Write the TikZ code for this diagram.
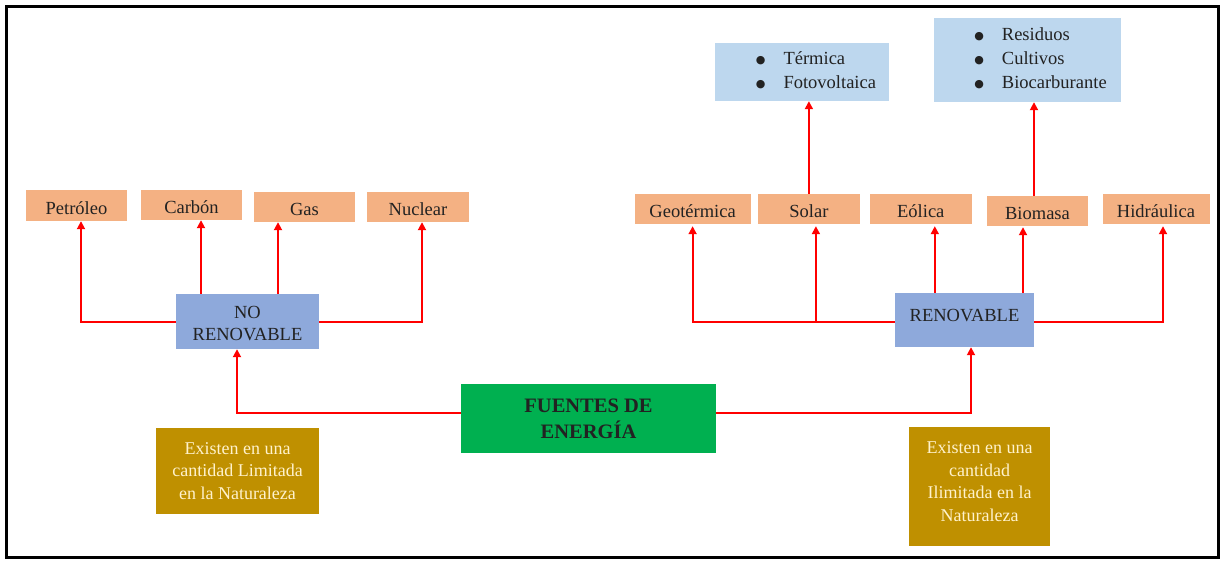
\documentclass[tikz,border=0pt]{standalone}
\usepackage{fontspec}
\setmainfont{Liberation Serif}
\newfontfamily\symfont{DejaVu Sans}
\usetikzlibrary{arrows.meta}
\definecolor{orangebox}{HTML}{F4B183}
\definecolor{bluebox}{HTML}{8EA9DB}
\definecolor{lightblue}{HTML}{BDD7EE}
\definecolor{greenbox}{HTML}{00B050}
\definecolor{goldbox}{HTML}{BF9000}
\definecolor{cream}{HTML}{FFF2CC}
\definecolor{textdark}{HTML}{222222}
\definecolor{linkred}{HTML}{FF0000}
% round list bullet
\newcommand{\bigdot}{\raisebox{1.5pt}{\symfont\fontsize{11}{12}\selectfont ●}}
\begin{document}
\begin{tikzpicture}[x=1pt,y=-1pt,
  box/.style={rectangle, draw=none, inner sep=0pt, text=textdark, align=center,
    font=\fontsize{18.5}{22}\selectfont},
  obox/.style={box, fill=orangebox, minimum height=30pt, text height=18pt, text depth=0.6pt},
  bbox/.style={box, fill=bluebox},
  lbox/.style={box, fill=lightblue, font=\fontsize{18.5}{24}\selectfont},
  gbox/.style={box, fill=goldbox, text=cream, font=\fontsize{18}{22.6}\selectfont},
  fbox/.style={box, fill=greenbox, font=\fontsize{20.5}{26}\selectfont\bfseries},
  arr/.style={draw=linkred, line width=1.8pt, -{Triangle[width=8pt,length=8pt]}},
]
\useasboundingbox (0,0) rectangle (1223,561);
% outer frame
\draw[line width=3pt] (6,7) rectangle (1218,557);

% central node
\node[fbox, minimum width=255pt, minimum height=69pt] (fuentes) at (588.5,418.5) {FUENTES DE\\ENERGÍA};

% non-renewable branch
\node[bbox, minimum width=143pt, minimum height=55pt, text height=38pt,
  font=\fontsize{18.5}{21.6}\selectfont] (norenov) at (247.5,321.5) {NO\\RENOVABLE};
\node[obox, minimum width=101pt, minimum height=31pt] (petroleo) at (76.5,205.5) {Petróleo};
\node[obox, minimum width=101pt] (carbon) at (191.5,205) {Carbón};
\node[obox, minimum width=101pt] (gas) at (304.5,207) {Gas};
\node[obox, minimum width=102pt] (nuclear) at (418,207) {Nuclear};
\node[gbox, minimum width=163pt, minimum height=86pt] (limitada) at (237.5,471)
  {Existen en una\\cantidad Limitada\\en la Naturaleza};

% renewable branch
\node[bbox, minimum width=139pt, minimum height=54pt, text height=13pt, text depth=9.6pt] (renov) at (964.5,320) {RENOVABLE};
\node[obox, minimum width=116pt] (geot) at (692.6,209) {Geotérmica};
\node[obox, minimum width=102pt] (solar) at (808.9,209) {Solar};
\node[obox, minimum width=102pt] (eolica) at (920.8,209) {Eólica};
\node[obox, minimum width=101pt] (biomasa) at (1037.5,211) {Biomasa};
\node[obox, minimum width=107pt] (hidr) at (1156,209) {Hidráulica};
\node[lbox, minimum width=174pt, minimum height=58pt] (termica) at (802,72)
  {\begin{tabular}{@{\hspace{28pt}}c@{\hspace{18pt}}l@{}}
   \bigdot & Térmica\\
   \bigdot & Fotovoltaica
   \end{tabular}};
\node[lbox, minimum width=187pt, minimum height=84pt] (residuos) at (1027.5,60)
  {\begin{tabular}{@{\hspace{26pt}}c@{\hspace{18pt}}l@{}}
   \bigdot & Residuos\\
   \bigdot & Cultivos\\
   \bigdot & Biocarburante
   \end{tabular}};
\node[gbox, minimum width=141pt, minimum height=119pt, text depth=10pt] (ilimitada) at (979.5,486.5)
  {Existen en una\\cantidad\\Ilimitada en la\\Naturaleza};

% connectors from the central node
\draw[arr] ([yshift=5.5pt]fuentes.west) -| ([xshift=-10.5pt]norenov.south);
\draw[arr] ([yshift=5.5pt]fuentes.east) -| ([xshift=6.5pt]renov.south);

% non-renewable sources
\draw[arr] ([yshift=-0.5pt]norenov.west) -| ([xshift=4.5pt]petroleo.south);
\draw[arr] ([xshift=9.5pt]carbon.south |- norenov.north) -- ([xshift=9.5pt]carbon.south);
\draw[arr] ([xshift=-26.5pt]gas.south |- norenov.north) -- ([xshift=-26.5pt]gas.south);
\draw[arr] ([yshift=-0.5pt]norenov.east) -| ([xshift=4pt]nuclear.south);

% renewable sources
\draw[arr, shorten >=2pt] ([yshift=-2pt]renov.west) -| (geot.south);
\draw[arr, shorten >=2pt] ([xshift=7pt,yshift=-2pt]solar.south |- renov.west) -- ([xshift=7pt]solar.south);
\draw[arr, shorten >=2pt] ([xshift=14pt]eolica.south |- renov.north) -- ([xshift=14pt]eolica.south);
\draw[arr, shorten >=1pt] ([xshift=-14.5pt]biomasa.south |- renov.north) -- ([xshift=-14.5pt]biomasa.south);
\draw[arr, shorten >=2pt] ([yshift=-2pt]renov.east) -| ([xshift=7pt]hidr.south);

% sub-types
\draw[arr] (solar.north) -- (solar.north |- termica.south);
\draw[arr] ([xshift=-3.5pt]biomasa.north) -- ([xshift=-3.5pt]biomasa.north |- residuos.south);
\end{tikzpicture}
\end{document}
